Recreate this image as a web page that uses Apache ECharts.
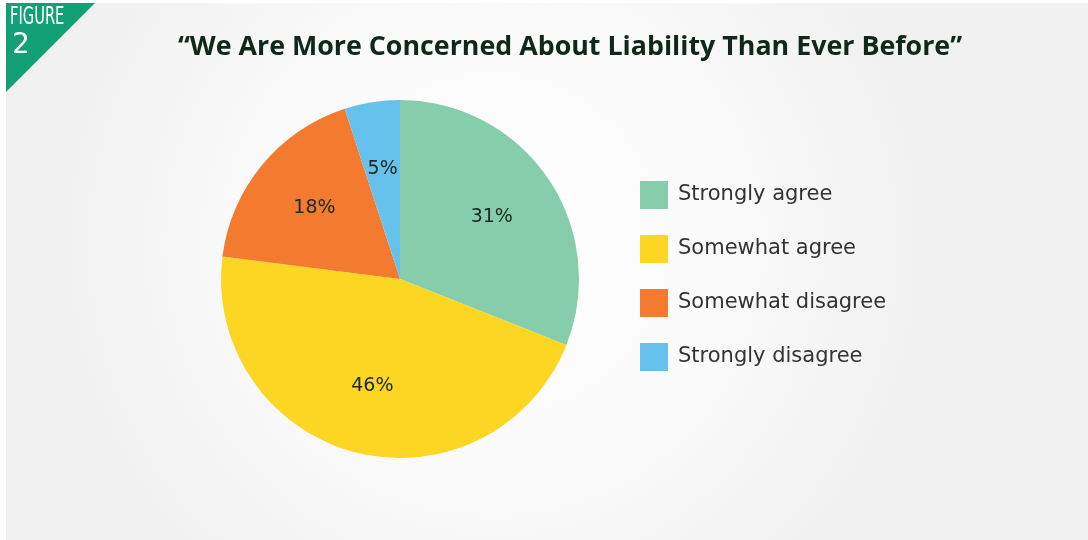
<!DOCTYPE html>
<html>
<head>
<meta charset="utf-8">
<script src="https://cdn.jsdelivr.net/npm/echarts@6/dist/echarts.min.js"></script>
<style>
  html, body { margin: 0; padding: 0; background: #fff; }
  #chart { width: 1088px; height: 540px; }
</style>
</head>
<body>
<div id="chart"></div>
<script>
// Survey responses
const categories = ['Strongly agree', 'Somewhat agree', 'Somewhat disagree', 'Strongly disagree'];
const shares = [31, 46, 18, 5];
const sliceColors = ['#86cdab', '#fcd623', '#f37a2f', '#66c1ec'];

const pieData = categories.map((name, i) => ({
  name,
  value: shares[i],
  itemStyle: { color: sliceColors[i] }
}));

const chart = echarts.init(document.getElementById('chart'), null, { renderer: 'canvas' });

chart.setOption({
  animation: false,
  backgroundColor: '#ffffff',
  title: {
    text: '\u201cWe Are More Concerned About Liability Than Ever Before\u201d',
    left: 565, top: 29, textAlign: 'center',
    textStyle: { fontFamily: 'Open Sans', fontWeight: 'bold', fontSize: 26.8, color: '#10281a' }
  },
  legend: {
    orient: 'vertical',
    left: 635, top: 176,
    itemWidth: 28, itemHeight: 28, itemGap: 26,
    icon: 'rect',
    data: categories,
    textStyle: { fontFamily: 'DejaVu Sans', fontSize: 21, lineHeight: 28, color: '#333333', padding: [0, 0, 0, 5] },
    selectedMode: false
  },
  graphic: [
    {
      // soft panel behind the chart
      type: 'rect', silent: true, z: -10,
      shape: { x: 6, y: 3, width: 1082, height: 537 },
      style: {
        fill: {
          type: 'radial', x: 0.45, y: 0.45, r: 0.8,
          colorStops: [
            { offset: 0, color: '#ffffff' },
            { offset: 0.5, color: '#fbfbfb' },
            { offset: 1, color: '#f1f1f1' }
          ]
        }
      }
    },
    {
      type: 'polygon', silent: true,
      shape: { points: [[6, 3], [95, 3], [6, 92]] },
      style: { fill: '#13a077' }
    },
    {
      type: 'text', x: 10, y: 6, scaleX: 0.68, silent: true,
      style: { text: 'FIGURE', fill: '#ffffff', font: '24px "DejaVu Sans Condensed"' }
    },
    {
      type: 'text', x: 12, y: 32, silent: true,
      style: { text: '2', fill: '#ffffff', font: '28px "DejaVu Sans"' }
    }
  ],
  series: [
    {
      type: 'pie',
      center: [400, 279],
      radius: [0, 179],
      startAngle: 90,
      clockwise: true,
      label: { show: false },
      labelLine: { show: false },
      data: pieData
    },
    {
      // transparent ring that only carries the percentage labels
      type: 'pie',
      silent: true,
      center: [400, 279],
      radius: [37, 179],
      startAngle: 90,
      clockwise: true,
      itemStyle: { color: 'rgba(0,0,0,0)' },
      label: {
        show: true,
        position: 'inside',
        formatter: '{c}%',
        fontFamily: 'DejaVu Sans',
        fontSize: 19,
        color: '#1b2a20'
      },
      labelLine: { show: false },
      data: categories.map((name, i) => ({ name, value: shares[i] }))
    }
  ]
});
</script>
</body>
</html>
